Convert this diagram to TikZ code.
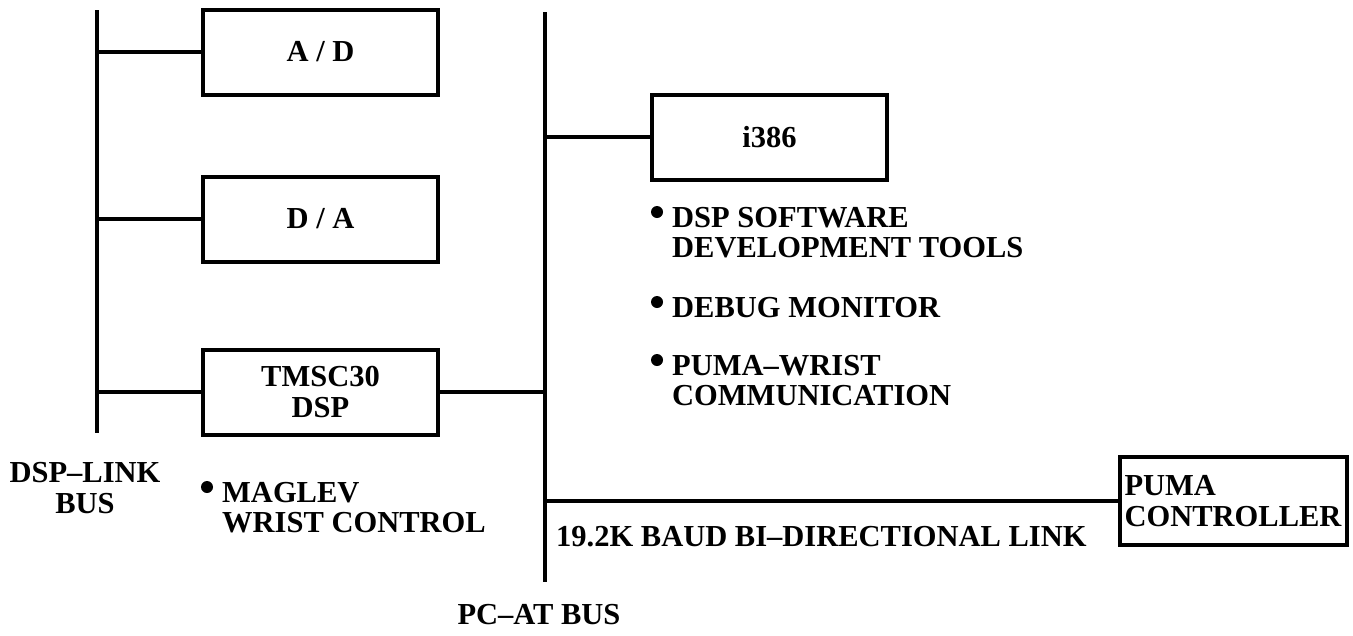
\documentclass[tikz,border=0pt]{standalone}
\usepackage{fontspec}
\setmainfont{Liberation Serif}
\usetikzlibrary{positioning,calc}

\newcommand{\lblfont}{\fontsize{30.5}{30.5}\selectfont\bfseries}

\tikzset{
    unit/.style={draw, line width=4pt, minimum width=235, minimum height=85,
        inner sep=0pt, align=center, font=\lblfont},
    bus/.style={line width=4.5pt},
    note/.style={inner sep=0pt, align=left, anchor=north west, font=\lblfont},
    buslabel/.style={inner sep=0pt, align=center, font=\lblfont},
}

\begin{document}
\begin{tikzpicture}[x=1pt,y=-1pt]
    \useasboundingbox (0,0) rectangle (1353,635);

    % buses
    \coordinate (ltop) at (97,10);
    \coordinate (lbot) at (97,433);
    \coordinate (rtop) at (545,12);
    \coordinate (rbot) at (545,582);
    \draw [bus] (ltop) -- (lbot);
    \draw [bus] (rtop) -- (rbot);

    % boards
    \node [unit] (ad) at (320.5,52) {A / D};
    \node [unit] (da) at (320.5,219) {D / A};
    \node [unit] (dsp) at (320.5,392) {TMSC30\\DSP};
    \node [unit] (cpu) at (769.5,137) {i386};
    \node [unit, minimum width=227, minimum height=88, align=left] (puma) at (1233,501) {PUMA\\CONTROLLER};

    \draw [bus] (ltop |- ad.west) -- (ad.west);
    \draw [bus] (ltop |- da.west) -- (da.west);
    \draw [bus] (ltop |- dsp.west) -- (dsp.west);
    \draw [bus] (dsp.east) -- (rtop |- dsp.east);
    \draw [bus] (rtop |- cpu.west) -- (cpu.west);
    \draw [bus] (rtop |- puma.west) -- (puma.west);

    % labels
    \node [buslabel] (dsplink) at (85,488) {DSP–LINK\\BUS};
    \node [buslabel] (pcat) at (539,615) {PC–AT BUS};
    \node [buslabel, anchor=west] (baud) at (556,537) {19.2K BAUD BI–DIRECTIONAL LINK};

    % tasks
    \node [note] (maglev) at (222,482) {MAGLEV\\WRIST CONTROL};
    \node [note] (tools) at (672,207) {DSP SOFTWARE\\DEVELOPMENT TOOLS};
    \node [note] (debug) at (672,297) {DEBUG MONITOR};
    \node [note] (comm) at (672,355) {PUMA–WRIST\\COMMUNICATION};
    \foreach \n in {maglev,tools,debug,comm}
        \fill ($(\n.north west)+(-15,5)$) circle (6);
\end{tikzpicture}
\end{document}
